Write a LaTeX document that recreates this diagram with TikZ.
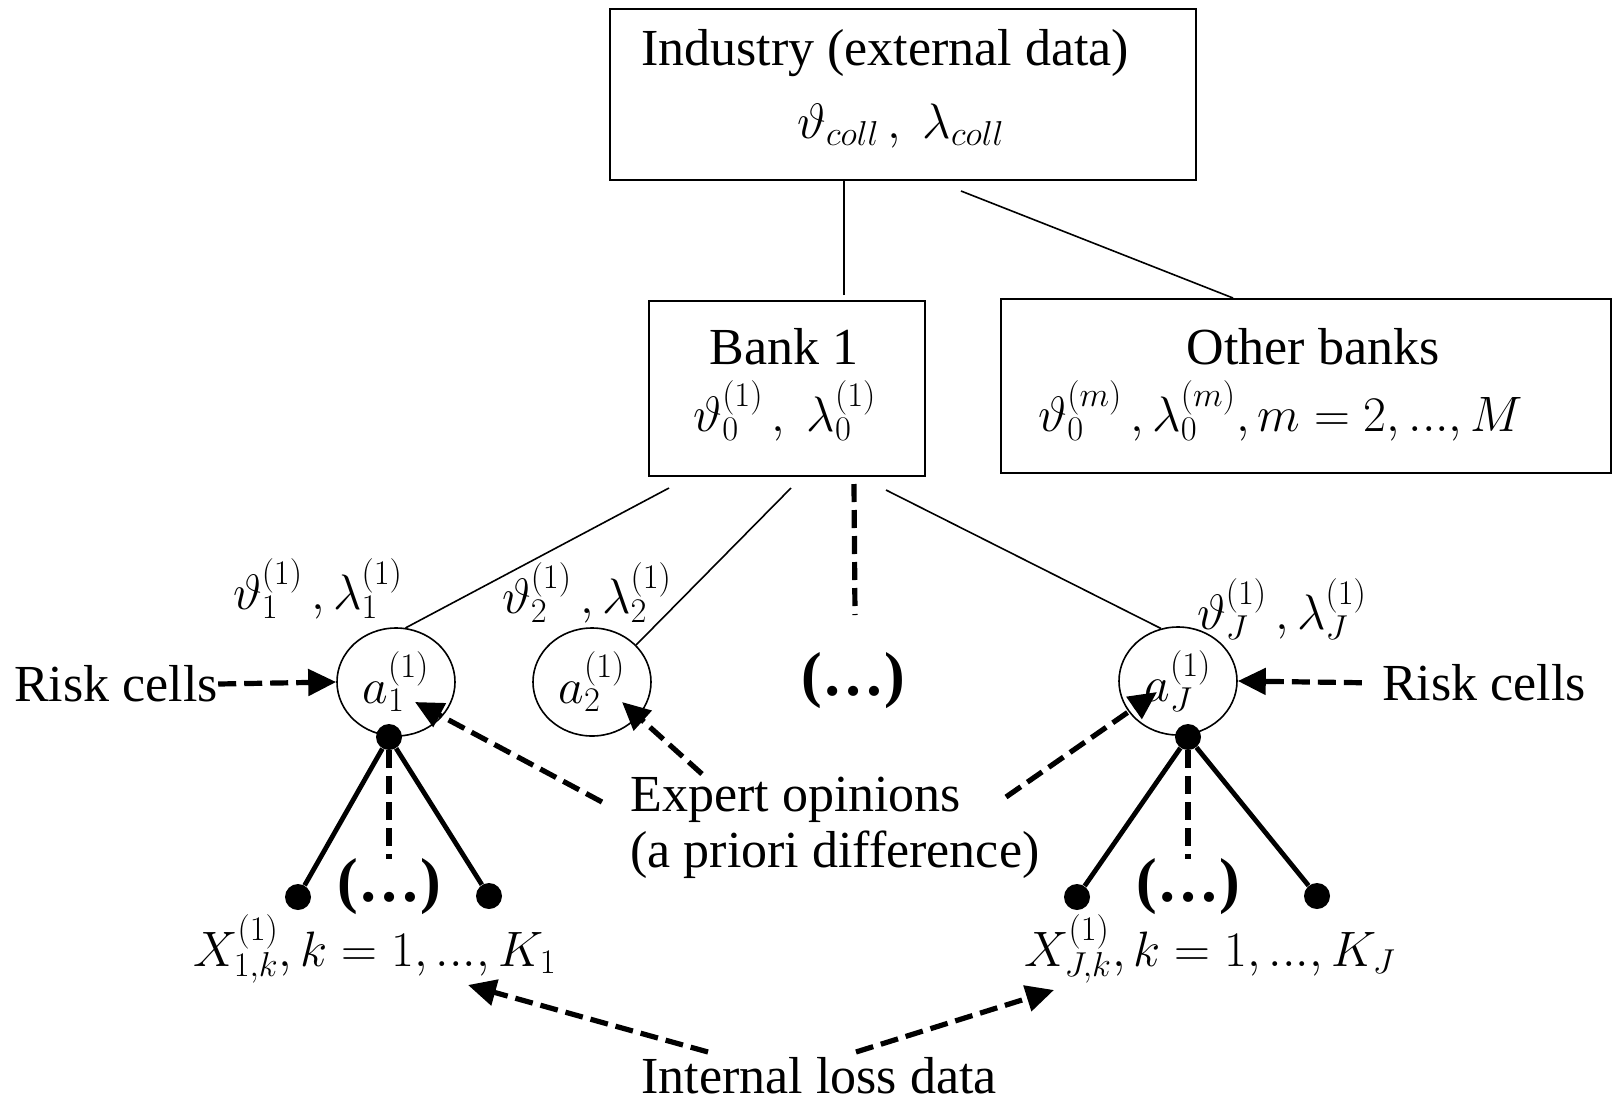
\documentclass[tikz,border=0pt]{standalone}
\usepackage{fontspec}
\setmainfont{Liberation Serif}
\usetikzlibrary{arrows.meta,calc,shapes.geometric}
\newcommand{\dts}{\mathord{.}\mathord{.}\mathord{.}}
\begin{document}
\begin{tikzpicture}[x=0.5pt,y=-0.5pt, font=\fontsize{26}{30}\selectfont,
  box/.style={draw, line width=1pt, inner sep=0pt},
  cell/.style={ellipse, draw, line width=0.8pt, minimum width=59pt, minimum height=54pt, inner sep=0pt},
  dotn/.style={circle, fill, inner sep=0pt, minimum size=13pt},
  txt/.style={inner sep=0pt},
  thinl/.style={line width=0.8pt},
  dasharr/.style={line width=2.6pt, dash pattern=on 9pt off 4pt, -{Triangle[length=14pt,width=13pt]}},
  dashl/.style={line width=2.6pt, dash pattern=on 9pt off 4pt},
  solidl/.style={line width=2.4pt},
  ellip/.style={inner sep=0pt, font=\fontsize{31}{34}\selectfont\bfseries}
]
\useasboundingbox (0,0) rectangle (1613,1109);

% boxes
\node[box, minimum width=293pt, minimum height=85.5pt] (top) at (903,94.5) {};
\node[txt] (topA) at (885,53) {Industry (external data)};
\node[txt] (topB) at (901,126) {$\vartheta_{coll}\,,\ \lambda_{coll}$};

\node[box, minimum width=138pt, minimum height=87.5pt] (bank) at (787,388.5) {};
\node[txt] (bankA) at (784,347) {Bank 1};
\node[txt] (bankB) at (785,411) {$\vartheta_0^{(1)}\,,\ \lambda_0^{(1)}$};

\node[box, minimum width=305pt, minimum height=87pt] (other) at (1306,386) {};
\node[txt] (otherA) at (1313,347) {Other banks};
\node[txt] (otherB) at (1281,411) {$\vartheta_0^{(m)}\,, \lambda_0^{(m)}, m=2,\dts,M$};

% risk cells
\node[cell] (a1) at (396,682) {$a_1^{(1)}$};
\node[cell] (a2) at (592,682) {$a_2^{(1)}$};
\node[cell] (aJ) at (1178,681) {$a_J^{(1)}$};
\node[ellip] (mid) at (853,681) {(…)};

\node[txt] (p1) at (318,589) {$\vartheta_1^{(1)}\,, \lambda_1^{(1)}$};
\node[txt] (p2) at (587,593) {$\vartheta_2^{(1)}\,, \lambda_2^{(1)}$};
\node[txt] (pJ) at (1282,609) {$\vartheta_J^{(1)}\,, \lambda_J^{(1)}$};

% loss data dots
\node[dotn] (d1) at (389,737) {};
\node[dotn] (l1a) at (298,897) {};
\node[dotn] (l1b) at (489,896) {};
\node[ellip] (e1) at (389,887) {(…)};
\node[txt] (X1) at (375,949) {$X_{1,k}^{(1)}, k=1,\dts,K_1$};

\node[dotn] (dJ) at (1188,737) {};
\node[dotn] (lJa) at (1077,897) {};
\node[dotn] (lJb) at (1317,896) {};
\node[ellip] (eJ) at (1188,887) {(…)};
\node[txt] (XJ) at (1210,949) {$X_{J,k}^{(1)}, k=1,\dts,K_J$};

% labels
\node[txt] (rcL) at (116,684) {Risk cells};
\node[txt] (rcR) at (1484,683) {Risk cells};
\node[txt, anchor=west] (exA) at (630,800) {Expert opinions};
\node[txt, anchor=west] (exB) at (630,855) {(a priori difference)};
\node[txt] (intl) at (819,1076) {Internal loss data};

% free ends
\coordinate (bt) at ($(bank.north west)+(196,-5)$);
\coordinate (midtop) at (855,615);
\coordinate (x1s) at (602,802);
\coordinate (x1t) at (415,702);
\coordinate (x2s) at (702,774);
\coordinate (x2t) at (622,702);
\coordinate (x3s) at (1006,797);
\coordinate (x3t) at (1157,692);
\coordinate (i1s) at (708,1052);
\coordinate (i1t) at (468,985);
\coordinate (i2s) at (856,1052);
\coordinate (i2t) at (1054,990);

% thin connectors
\draw[thinl] (bt) -- (bt |- top.south);
\draw[thinl] ($(top.south west)+(352,10)$) -- ($(other.north west)+(233,0)$);
\draw[thinl] ($(bank.south west)+(21,11)$) -- (a1.80);
\draw[thinl] ($(bank.south west)+(143,11)$) -- (a2.40);
\draw[dashl] ($(bank.south west)+(206,7)$) -- (midtop);
\draw[thinl] ($(bank.south west)+(238,13)$) -- (aJ.108);

% loss data lines
\draw[solidl] (d1) -- (l1a);
\draw[solidl] (d1) -- (l1b);
\draw[dashl] (d1) -- (e1.north);
\draw[solidl] (dJ) -- (lJa);
\draw[solidl] (dJ) -- (lJb);
\draw[dashl] (dJ) -- (eJ.north);

% arrows
\draw[dasharr] (rcL.east) -- (a1.west);
\draw[dasharr, shorten <=10pt] (rcR.west) -- (aJ.east);
\draw[dasharr] (x1s) -- (x1t);
\draw[dasharr] (x2s) -- (x2t);
\draw[dasharr] (x3s) -- (x3t);
\draw[dasharr] (i1s) -- (i1t);
\draw[dasharr] (i2s) -- (i2t);
\end{tikzpicture}
\end{document}
